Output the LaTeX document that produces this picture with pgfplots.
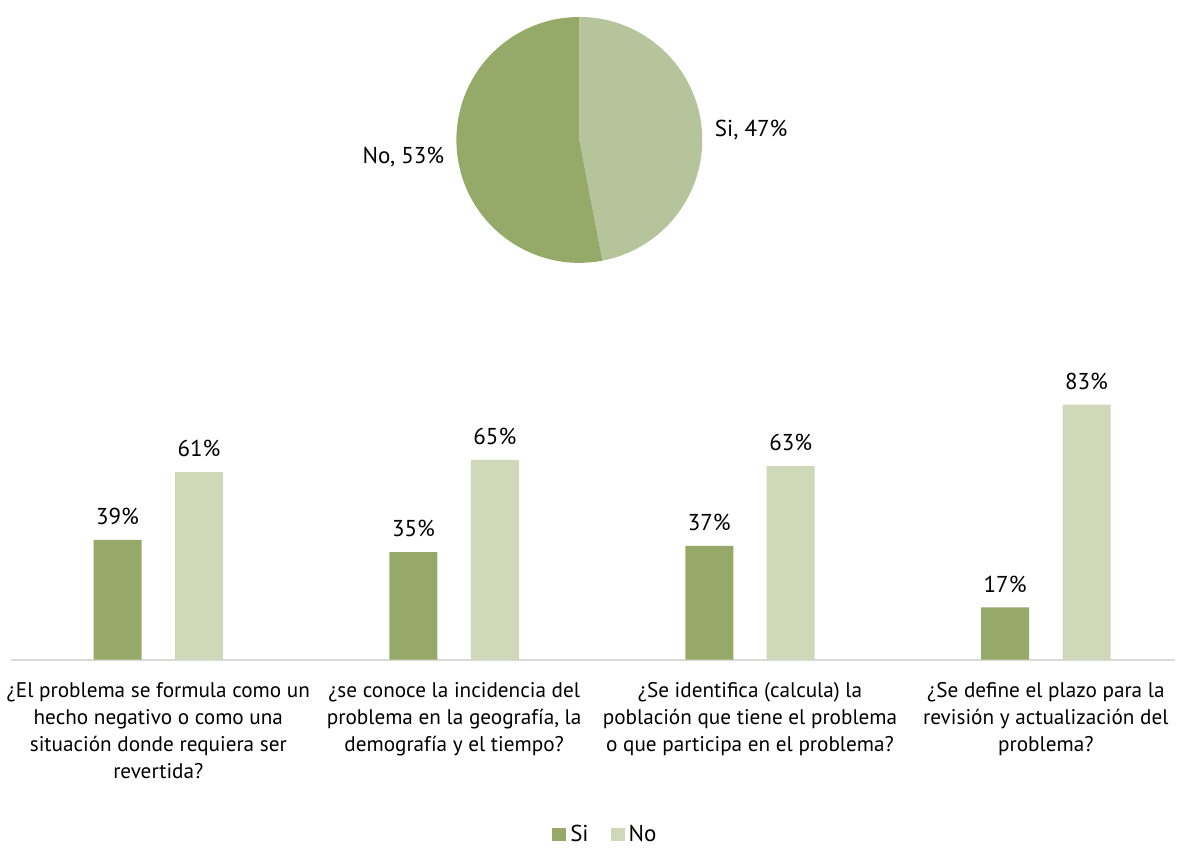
\documentclass[border=0pt]{standalone}
\usepackage{pgfplots}
\pgfplotsset{compat=1.18}
\usepackage{fontspec}
\setmainfont{PT Sans}
\definecolor{siverde}{HTML}{97A969}
\definecolor{noverde}{HTML}{CFD8B9}
\definecolor{pieno}{HTML}{95AA68}
\definecolor{piesi}{HTML}{B5C49B}
\definecolor{ejegris}{HTML}{D9D9D9}

\begin{document}
\begin{tikzpicture}
% marco de la pagina (1179x845 px a 0.5pt/px)
\path (0pt,0pt) rectangle (589.5pt,422.5pt);

% --- barras ---
\begin{axis}[
  at={(5pt,92.5pt)}, anchor=south west,
  width=582.5pt, height=153.75pt, scale only axis,
  xmin=-0.49916, xmax=3.4366, ymin=0, ymax=100,
  axis x line=bottom, axis y line=none,
  x axis line style={draw=ejegris, line width=1pt, -},
  xtick={0,1,2,3}, major tick length=0pt,
  xticklabels={
    {¿El problema se formula como un\\hecho negativo o como una\\situación donde requiera ser\\revertida?},
    {¿se conoce la incidencia del\\problema en la geografía, la\\demografía y el tiempo?},
    {¿Se identifica (calcula) la\\población que tiene el problema\\o que participa en el problema?},
    {¿Se define el plazo para la\\revisión y actualización del\\problema?}},
  xticklabel style={align=center, font=\fontsize{10.6}{13.5}\selectfont, anchor=north, yshift=-8pt},
  ytick=\empty,
  ybar, bar width=24pt,
  nodes near coords={\pgfmathprintnumber{\pgfplotspointmeta}\%},
  nodes near coords style={font=\fontsize{11.5}{13}\selectfont, yshift=4pt},
  /pgf/number format/assume math mode=true,
  legend style={at={(0.5116,-0.569)}, anchor=center, draw=none,
    font=\fontsize{11.5}{13}\selectfont, legend columns=2,
    /tikz/every even column/.append style={column sep=9pt}},
]
\addplot[fill=siverde, draw=none, bar shift=-20.375pt,
  legend image code/.code={\fill[siverde] (0pt,-3.5pt) rectangle (7pt,3.5pt);}]
  coordinates {(0,39) (1,35) (2,37) (3,17)};
\addplot[fill=noverde, draw=none, bar shift=20.375pt,
  legend image code/.code={\fill[noverde] (0pt,-3.5pt) rectangle (7pt,3.5pt);}]
  coordinates {(0,61) (1,65) (2,63) (3,83)};
\legend{Si, No}
\end{axis}

% --- pastel ---
\def\pieSi{47}
\def\pieNo{53}
\begin{axis}[
  hide axis, clip=false, at={(289.5pt,352.5pt)}, anchor=center,
  width=123pt, height=123pt, scale only axis,
  xmin=-1, xmax=1, ymin=-1, ymax=1,
]
\fill[piesi] (axis cs:0,0) -- ++(90:61.5pt)
  arc[start angle=90, end angle={90-3.6*\pieSi}, radius=61.5pt] -- cycle;
\fill[pieno] (axis cs:0,0) -- ++({90-3.6*\pieSi}:61.5pt)
  arc[start angle={90-3.6*\pieSi}, end angle={90-3.6*\pieSi-3.6*\pieNo}, radius=61.5pt] -- cycle;
\node[font=\fontsize{11.5}{13}\selectfont] at ([shift={(-88pt,-8.5pt)}]axis cs:0,0) {No, \pieNo\%};
\node[font=\fontsize{11.5}{13}\selectfont] at ([shift={(86pt,5pt)}]axis cs:0,0) {Si, \pieSi\%};
\end{axis}
\end{tikzpicture}
\end{document}
